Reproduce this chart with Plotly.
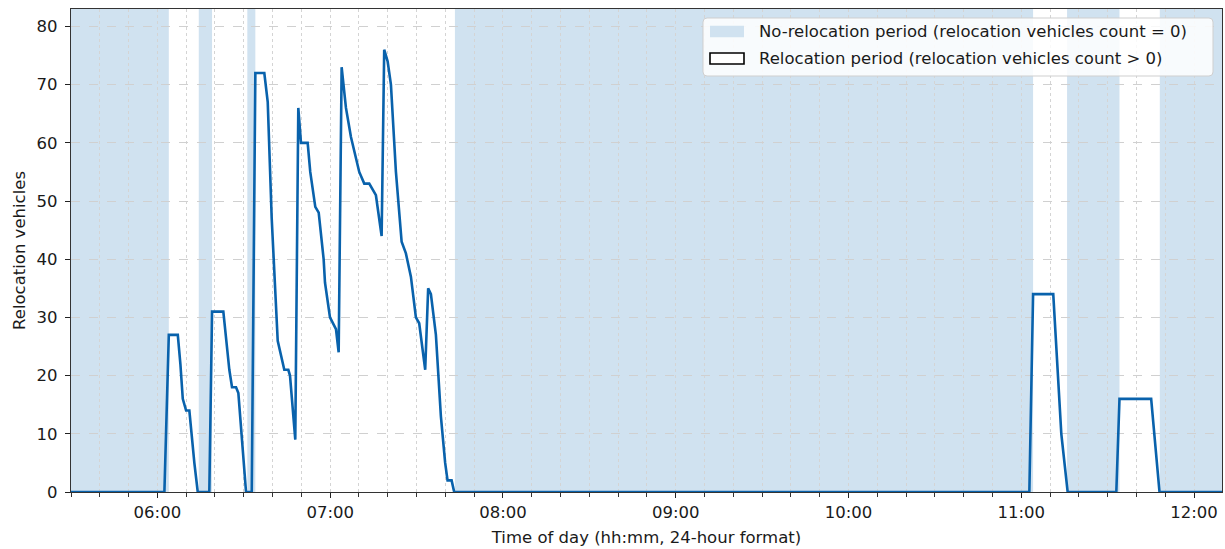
import pandas as pd
import plotly.graph_objects as go

DAY = "2024-01-01 "

# Relocation vehicles in use over the morning (breakpoints of the series)
times = [
    "05:30:00", "06:02:26", "06:03:58", "06:07:05", "06:07:59", "06:08:49",
    "06:09:58", "06:11:06", "06:12:50", "06:14:01", "06:18:02", "06:18:59",
    "06:22:54", "06:24:59", "06:25:55", "06:27:19", "06:28:07", "06:30:47",
    "06:32:46", "06:34:01", "06:37:08", "06:38:19", "06:39:42", "06:41:47",
    "06:44:04", "06:45:28", "06:46:03", "06:47:53", "06:48:56", "06:49:52",
    "06:52:11", "06:53:05", "06:54:50", "06:56:01", "06:57:44", "06:58:12",
    "06:59:56", "07:02:01", "07:02:57", "07:03:59", "07:05:29", "07:07:13",
    "07:10:06", "07:11:50", "07:13:34", "07:14:45", "07:15:53", "07:17:52",
    "07:18:46", "07:19:57", "07:21:06", "07:22:50", "07:24:49", "07:26:18",
    "07:28:02", "07:29:46", "07:30:55", "07:33:00", "07:34:02", "07:34:59",
    "07:36:43", "07:38:27", "07:39:56", "07:40:46", "07:42:10", "07:43:04",
    "11:02:48", "11:04:06", "11:11:06", "11:13:54", "11:15:36", "11:16:06",
    "11:33:00", "11:34:06", "11:45:06", "11:48:00", "12:09:42",
]
vehicles = [
    0, 0, 27, 27, 22, 16,
    14, 14, 5, 0, 0, 31,
    31, 21, 18, 18, 17, 0,
    0, 72, 72, 67, 47, 26,
    21, 21, 20, 9, 66, 60,
    60, 55, 49, 48, 40, 36,
    30, 28, 24, 73, 66, 61,
    55, 53, 53, 52, 51, 44,
    76, 74, 70, 55, 43, 41,
    37, 30, 29, 21, 35, 34,
    27, 13, 5, 2, 2, 0,
    0, 34, 34, 10, 2, 0,
    0, 16, 16, 0, 0,
]

# Periods with no relocation vehicles (start, end)
idle_start = ["05:30:00", "06:14:22", "06:31:14", "07:43:19", "11:15:54", "11:48:06"]
idle_end = ["06:03:58", "06:18:59", "06:34:01", "11:04:06", "11:34:06", "12:09:42"]

x_start, x_end = "05:30:00", "12:09:42"
hour_ticks = ["06:00", "07:00", "08:00", "09:00", "10:00", "11:00", "12:00"]

LEGEND_LABELS = [
    "No-relocation period (relocation vehicles count = 0)",
    "Relocation period (relocation vehicles count > 0)",
]


def ts(t):
    return pd.to_datetime(DAY + t)


FONT = "DejaVu Sans"
FS = 16.5
SHADE = "#d0e2f0"
LINE = "#0962ac"

fig = go.Figure()

fig.add_trace(go.Scatter(
    x=[ts(t) for t in times], y=vehicles, mode="lines",
    line=dict(color=LINE, width=2.6), showlegend=False, hoverinfo="x+y",
))

shapes = []
for s, e in zip(idle_start, idle_end):
    shapes.append(dict(type="rect", xref="x", yref="paper",
                       x0=ts(s), x1=ts(e), y0=0, y1=1,
                       fillcolor=SHADE, line=dict(width=0), layer="below"))

# Plot area in pixels, used to place the hand-drawn legend
L, R, T, B = 71, 3, 9, 57
W, H = 1225, 549
PW, PH = W - L - R, H - T - B


def px(xp):
    return (xp - L) / PW


def py(yp):
    return (H - B - yp) / PH


# rounded legend frame
bx0, bx1, by0, by1 = 703, 1213, 18, 76
r = 4
rx, ry = r / PW, r / PH
X0, X1, Y0, Y1 = px(bx0), px(bx1), py(by1), py(by0)
frame = (f"M{X0+rx},{Y0} L{X1-rx},{Y0} Q{X1},{Y0} {X1},{Y0+ry} "
         f"L{X1},{Y1-ry} Q{X1},{Y1} {X1-rx},{Y1} L{X0+rx},{Y1} "
         f"Q{X0},{Y1} {X0},{Y1-ry} L{X0},{Y0+ry} Q{X0},{Y0} {X0+rx},{Y0} Z")
shapes.append(dict(type="path", xref="paper", yref="paper", path=frame,
                   fillcolor="rgba(255,255,255,0.85)",
                   line=dict(color="#cfcfcf", width=1), layer="above"))

row_y = [31.5, 58.5]
shapes.append(dict(type="rect", xref="paper", yref="paper",
                   x0=px(710), x1=px(744), y0=py(row_y[0] + 5.8), y1=py(row_y[0] - 5.8),
                   fillcolor=SHADE, line=dict(width=0), layer="above"))
shapes.append(dict(type="rect", xref="paper", yref="paper",
                   x0=px(710), x1=px(744), y0=py(row_y[1] + 5.5), y1=py(row_y[1] - 5.5),
                   fillcolor="white", line=dict(color="black", width=1.6), layer="above"))

annotations = []
for label, yy in zip(LEGEND_LABELS, row_y):
    annotations.append(dict(xref="paper", yref="paper", x=px(757), y=py(yy),
                            xanchor="left", yanchor="middle", showarrow=False,
                            text=label, font=dict(family=FONT, size=FS, color="#1a1a1a")))

fig.update_layout(
    width=W, height=H,
    margin=dict(l=L, r=R, t=T, b=B, autoexpand=False),
    paper_bgcolor="white", plot_bgcolor="white",
    font=dict(family=FONT, size=FS, color="#1a1a1a"),
    shapes=shapes, annotations=annotations,
    showlegend=False,
)

fig.update_xaxes(
    type="date", range=[ts(x_start), ts(x_end)],
    tickvals=[ts(t) for t in hour_ticks], ticktext=hour_ticks,
    ticks="outside", ticklen=5, tickwidth=1.2, tickcolor="#222",
    showline=True, linecolor="#333", linewidth=1.2, mirror=True,
    showgrid=True, gridcolor="#d4d4d4", griddash="dot", gridwidth=1,
    minor=dict(dtick=600000, tick0=ts("06:00"), ticks="outside", ticklen=3.5,
               tickwidth=1, tickcolor="#333", showgrid=True,
               gridcolor="#d4d4d4", griddash="dot", gridwidth=1),
    zeroline=False, automargin=False,
    title=dict(text="Time of day (hh:mm, 24-hour format)",
               font=dict(family=FONT, size=FS), standoff=10),
)

fig.update_yaxes(
    range=[0, 83], dtick=10, tick0=0,
    ticks="outside", ticklen=5, tickwidth=1.2, tickcolor="#222",
    ticklabelstandoff=4,
    showline=True, linecolor="#333", linewidth=1.2, mirror=True,
    showgrid=True, gridcolor="#d0d0d0", griddash="dash", gridwidth=1,
    zeroline=False, automargin=False,
    title=dict(text="Relocation vehicles", font=dict(family=FONT, size=FS), standoff=6),
)

fig.write_html("out.html")
